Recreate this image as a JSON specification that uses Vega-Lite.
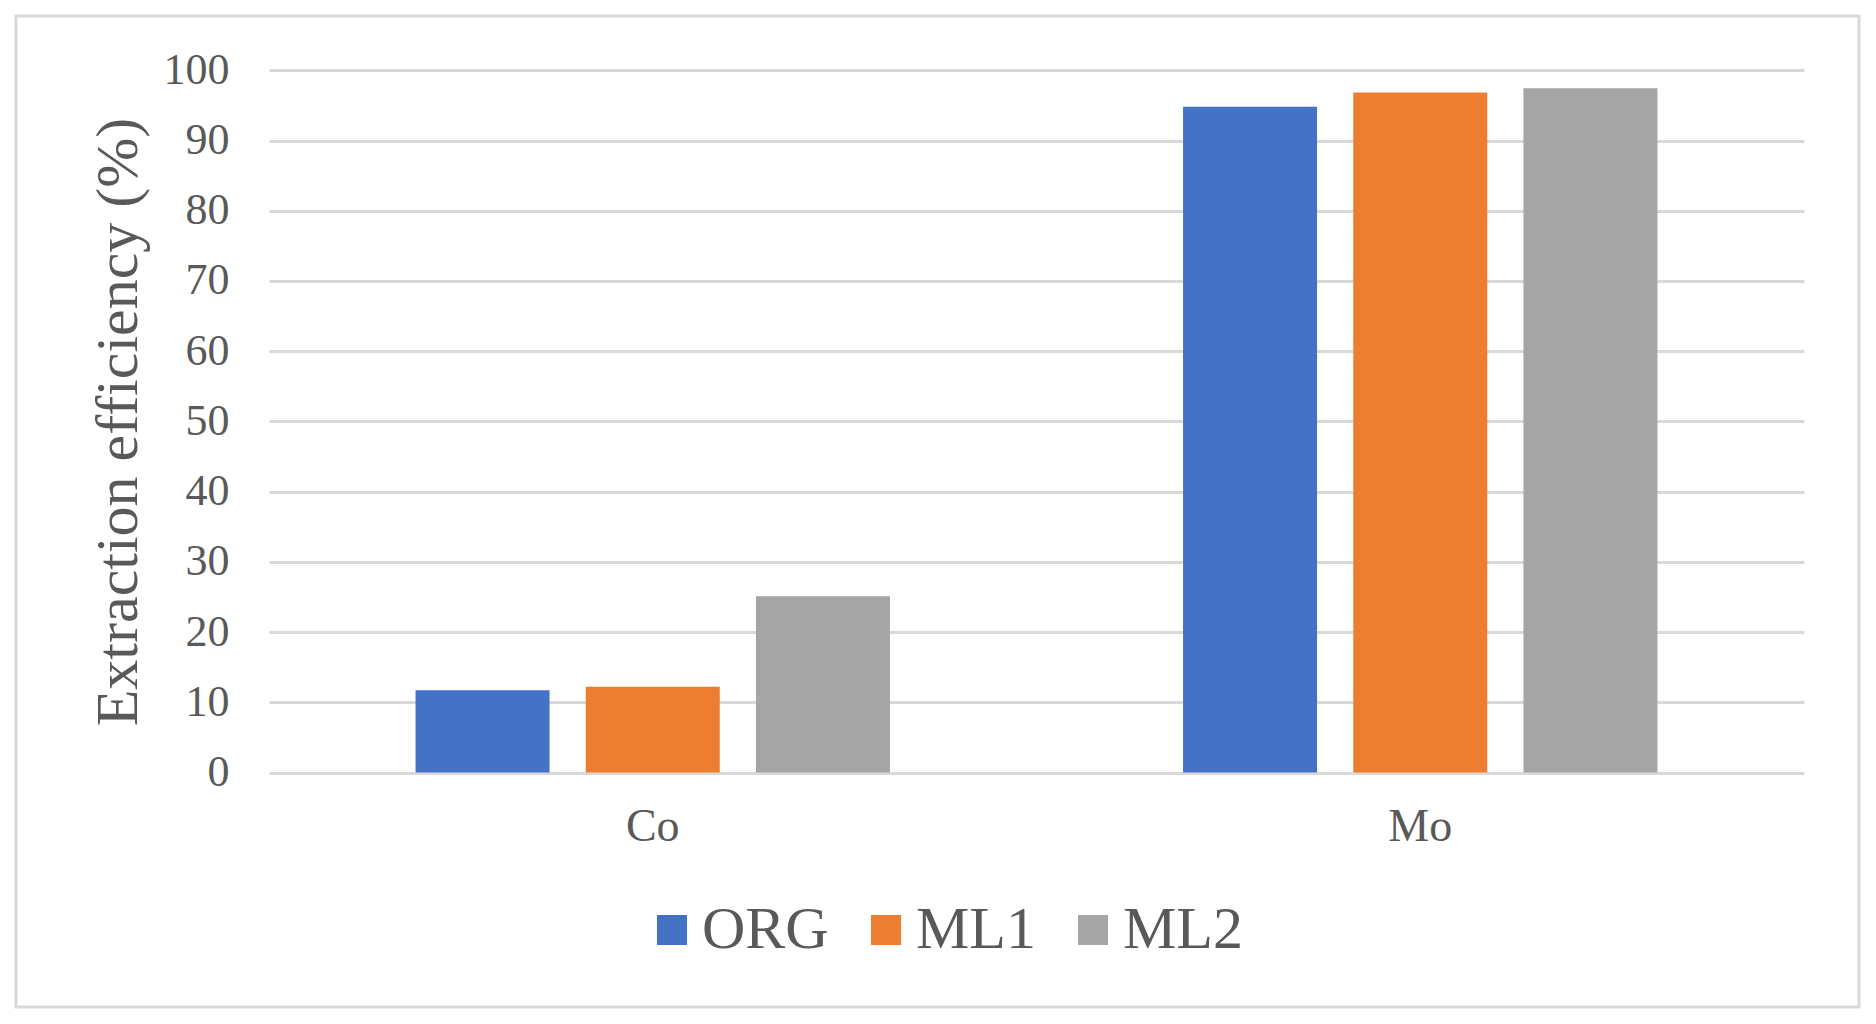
{
  "$schema": "https://vega.github.io/schema/vega-lite/v6.json",
  "autosize": {"type": "none"},
  "padding": {"left": 16, "top": 16, "right": 17, "bottom": 17},
  "width": 1843,
  "height": 991,
  "background": "white",
  "config": {
    "view": {"stroke": "#d9d9d9", "strokeWidth": 3},
    "font": "Liberation Serif"
  },
  "data": {
    "values": [
      {"metal": "Co", "series": "ORG", "value": 11.7},
      {"metal": "Co", "series": "ML1", "value": 12.2},
      {"metal": "Co", "series": "ML2", "value": 25.1},
      {"metal": "Mo", "series": "ORG", "value": 94.8},
      {"metal": "Mo", "series": "ML1", "value": 96.85},
      {"metal": "Mo", "series": "ML2", "value": 97.45}
    ]
  },
  "mark": {"type": "bar"},
  "encoding": {
    "x": {
      "field": "metal",
      "type": "nominal",
      "sort": ["Co", "Mo"],
      "scale": {"range": [253, 1788], "paddingInner": 0, "paddingOuter": 0},
      "axis": {
        "title": null,
        "orient": "bottom",
        "offset": -234.5,
        "domain": false,
        "ticks": false,
        "grid": false,
        "labelAngle": 0,
        "labelFont": "Liberation Serif",
        "labelFontSize": 46,
        "labelColor": "#595959",
        "labelBaseline": "alphabetic",
        "labelPadding": 68
      }
    },
    "xOffset": {
      "field": "series",
      "type": "nominal",
      "sort": ["ORG", "ML1", "ML2"],
      "scale": {"paddingInner": 0.2127, "paddingOuter": 0.861}
    },
    "y": {
      "field": "value",
      "type": "quantitative",
      "scale": {"domain": [0, 100], "range": [756.5, 54.3], "nice": false},
      "axis": {
        "title": "Extraction efficiency (%)",
        "orient": "left",
        "offset": -253,
        "values": [0, 10, 20, 30, 40, 50, 60, 70, 80, 90, 100],
        "domain": false,
        "ticks": false,
        "grid": true,
        "gridColor": "#d9d9d9",
        "gridWidth": 3,
        "labelFont": "Liberation Serif",
        "labelFontSize": 44,
        "labelColor": "#595959",
        "labelPadding": 40,
        "titleFont": "Liberation Serif",
        "titleFontSize": 60,
        "titleFontWeight": "normal",
        "titleColor": "#595959",
        "titleAngle": -90,
        "titleBaseline": "alphabetic",
        "titleAlign": "center",
        "titleX": -133,
        "titleY": 405.5
      }
    },
    "color": {
      "field": "series",
      "type": "nominal",
      "sort": ["ORG", "ML1", "ML2"],
      "scale": {"domain": ["ORG", "ML1", "ML2"], "range": ["#4472C4", "#ED7D31", "#A5A5A5"]},
      "legend": {
        "title": null,
        "orient": "none",
        "direction": "horizontal",
        "columns": 3,
        "legendX": 626,
        "legendY": 884,
        "padding": 0,
        "symbolType": "square",
        "symbolSize": 900,
        "symbolStrokeWidth": 0,
        "labelFont": "Liberation Serif",
        "labelFontSize": 60,
        "labelColor": "#595959",
        "labelOffset": 0,
        "labelLimit": 400,
        "columnPadding": 27
      }
    }
  }
}
